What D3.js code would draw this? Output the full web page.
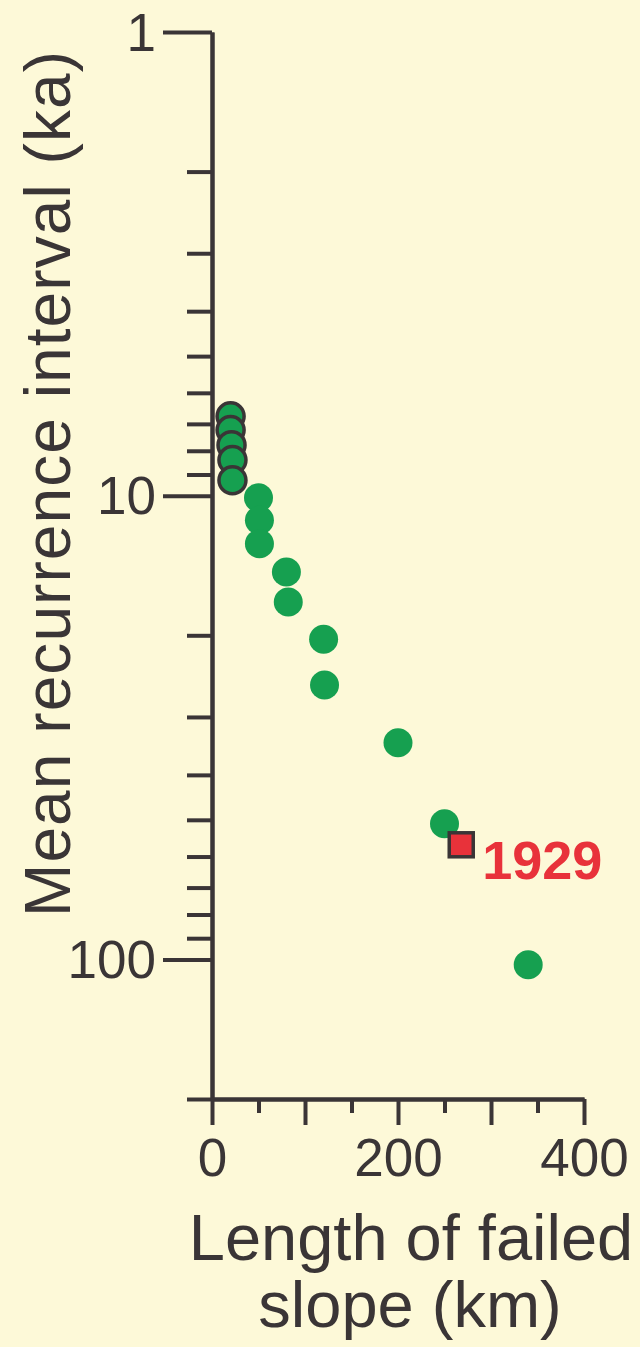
<!DOCTYPE html>
<html>
<head>
<meta charset="utf-8">
<script src="https://cdn.jsdelivr.net/npm/d3@7"></script>
<style>
  html, body { margin: 0; padding: 0; background: #fdf9d8; }
  svg { display: block; }
  text { font-family: "Liberation Sans", Arial, Helvetica, sans-serif; }
</style>
</head>
<body>
<svg id="chart" width="640" height="1347"></svg>
<script>
// Slope-failure lengths (km) and mean recurrence intervals (ka)
const lengthKm = [20, 20, 21, 22, 22, 50, 51, 51, 80, 82, 120, 121, 200, 250, 340];
const intervalKa = [6.74, 7.22, 7.78, 8.38, 9.26, 10.1, 11.3, 12.7, 14.6, 16.95, 20.4, 25.6, 34.1, 51.0, 102.7];
const outlined = [true, true, true, true, true, false, false, false, false, false, false, false, false, false, false];

// The 1929 event
const eventLength = [268];
const eventInterval = [56.6];
const eventLabel = ["1929"];

// Axis ticks
const xMajorTicks = [0, 100, 200, 300, 400];
const xMinorTicks = [50, 150, 250, 350];
const xTickLabels = [0, 200, 400];
const yMajorTicks = [1, 10, 100];
const yMinorTicks = [2, 3, 4, 5, 6, 7, 8, 9, 20, 30, 40, 50, 60, 70, 80, 90, 200];

const axisColor = "#3a3536";
const green = "#16a050";
const red = "#e8323a";

const svg = d3.select("#chart");
svg.append("rect").attr("width", 640).attr("height", 1347).attr("fill", "#fdf9d8");

const x = d3.scaleLinear().domain([0, 400]).range([212, 584]);
const y = d3.scaleLog().domain([1, 200]).range([32, 1099]);

const axisStyle = g => {
  g.selectAll("path, line").attr("stroke", axisColor).attr("stroke-width", 4);
  g.selectAll("text").attr("fill", axisColor);
};

// Y axis: minor ticks, then major ticks with labels
svg.append("g")
  .attr("transform", `translate(${x(0)},0)`)
  .call(d3.axisLeft(y).tickValues(yMinorTicks).tickSize(25).tickSizeOuter(0).tickFormat(""))
  .call(axisStyle);

svg.append("g")
  .attr("transform", `translate(${x(0)},0)`)
  .call(d3.axisLeft(y).tickValues(yMajorTicks).tickSize(49).tickSizeOuter(0).tickPadding(7)
    .tickFormat(d => d3.format("d")(d)))
  .call(axisStyle)
  .call(g => g.selectAll("text").attr("font-size", 53).attr("dy", "0.34em"));

// X axis: minor ticks, then major ticks with labels on 0/200/400
svg.append("g")
  .attr("transform", `translate(0,${y(200)})`)
  .call(d3.axisBottom(x).tickValues(xMinorTicks).tickSize(14).tickSizeOuter(0).tickFormat(""))
  .call(axisStyle);

svg.append("g")
  .attr("transform", `translate(0,${y(200)})`)
  .call(d3.axisBottom(x).tickValues(xMajorTicks).tickSize(26).tickSizeOuter(0).tickPadding(13)
    .tickFormat(d => xTickLabels.includes(d) ? d3.format("d")(d) : ""))
  .call(axisStyle)
  .call(g => g.selectAll("text").attr("font-size", 53).attr("dy", "0.71em"));

// Axis titles
svg.append("text")
  .attr("transform", "translate(70,484) rotate(-90)")
  .attr("text-anchor", "middle")
  .attr("font-size", 64)
  .attr("fill", axisColor)
  .attr("textLength", 866)
  .attr("lengthAdjust", "spacing")
  .text("Mean recurrence interval (ka)");

svg.append("text")
  .attr("x", 411).attr("y", 1260)
  .attr("text-anchor", "middle")
  .attr("font-size", 65)
  .attr("fill", axisColor)
  .text("Length of failed");

svg.append("text")
  .attr("x", 410).attr("y", 1327)
  .attr("text-anchor", "middle")
  .attr("font-size", 65)
  .attr("fill", axisColor)
  .text("slope (km)");

// Data points
const pts = lengthKm.map((d, i) => ({ len: d, ka: intervalKa[i], ring: outlined[i] }));
svg.append("g").selectAll("circle")
  .data(pts)
  .join("circle")
  .attr("cx", d => x(d.len))
  .attr("cy", d => y(d.ka))
  .attr("r", d => d.ring ? 13.5 : 14.5)
  .attr("fill", green)
  .attr("stroke", d => d.ring ? axisColor : "none")
  .attr("stroke-width", 3.5);

// 1929 event marker and label
const ev = eventLength.map((d, i) => ({ len: d, ka: eventInterval[i], label: eventLabel[i] }));
const side = 24;
svg.append("g").selectAll("rect")
  .data(ev)
  .join("rect")
  .attr("x", d => x(d.len) - side / 2)
  .attr("y", d => y(d.ka) - side / 2)
  .attr("width", side).attr("height", side)
  .attr("fill", red)
  .attr("stroke", axisColor)
  .attr("stroke-width", 3.5);

svg.append("g").selectAll("text")
  .data(ev)
  .join("text")
  .attr("x", d => x(d.len) + 21)
  .attr("y", d => y(d.ka) + 34)
  .attr("font-size", 54)
  .attr("font-weight", "bold")
  .attr("fill", red)
  .text(d => d.label);
</script>
</body>
</html>
